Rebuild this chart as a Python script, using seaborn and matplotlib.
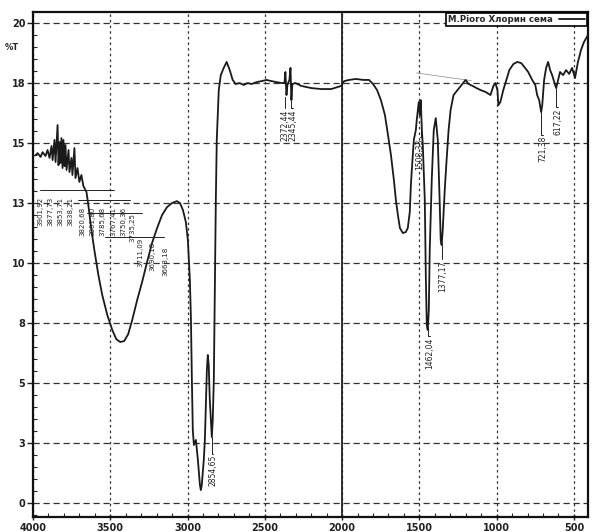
import matplotlib
matplotlib.use("Agg")
import matplotlib.pyplot as plt
import seaborn as sns
import pandas as pd
from matplotlib.ticker import MultipleLocator, FixedLocator, FuncFormatter

# ---------------- data ----------------
wavenumber = [3983, 3970, 3951, 3938, 3919, 3906, 3893, 3880, 3873, 3861, 3854, 3841, 3835, 3828,
              3822, 3816, 3809, 3803, 3796, 3790, 3783, 3770, 3764, 3751, 3745, 3732, 3725, 3712,
              3700, 3687, 3674, 3654, 3642, 3622, 3603, 3577, 3552, 3519, 3487, 3461, 3436, 3410,
              3384, 3358, 3326, 3294, 3262, 3230, 3197, 3165, 3133, 3101, 3069, 3049, 3030, 3011,
              2998, 2985, 2978, 2972, 2966, 2959, 2946, 2933, 2920, 2914, 2908, 2895, 2888, 2875,
              2869, 2863, 2856, 2843, 2837, 2830, 2824, 2817, 2811, 2798, 2785, 2766, 2747, 2727,
              2708, 2689, 2663, 2637, 2611, 2585, 2553, 2521, 2489, 2457, 2425, 2392, 2373, 2367,
              2360, 2354, 2341, 2334, 2328, 2322, 2302, 2264, 2199, 2134, 2070, 2006, 1987, 1955,
              1910, 1864, 1826, 1800, 1774, 1749, 1723, 1703, 1684, 1665, 1652, 1639, 1626, 1607,
              1588, 1575, 1562, 1555, 1549, 1536, 1523, 1517, 1504, 1497, 1491, 1484, 1478, 1465,
              1458, 1452, 1446, 1439, 1433, 1420, 1407, 1394, 1381, 1369, 1362, 1356, 1349, 1336,
              1324, 1311, 1298, 1279, 1253, 1227, 1201, 1182, 1156, 1130, 1105, 1072, 1040, 1021,
              1008, 995, 989, 976, 957, 937, 918, 892, 866, 841, 821, 796, 770, 750, 738, 725, 712,
              705, 693, 680, 667, 654, 641, 622, 615, 602, 590, 570, 551, 531, 512, 493, 474, 454,
              435, 409]
transmittance = [14.50, 14.58, 14.42, 14.62, 14.46, 14.71, 14.38, 14.88, 14.29, 15.13, 14.21, 15.75,
                 14.08, 15.04, 14.17, 15.21, 13.96, 15.13, 14.04, 14.92, 13.88, 14.71, 13.79, 14.38,
                 13.67, 14.79, 13.54, 13.96, 13.38, 13.67, 13.21, 12.96, 12.42, 11.38, 10.54, 9.50,
                 8.67, 7.83, 7.21, 6.83, 6.71, 6.75, 7.04, 7.63, 8.46, 9.21, 10.04, 10.83, 11.46,
                 12.00, 12.33, 12.50, 12.58, 12.50, 12.21, 11.71, 10.96, 9.29, 7.63, 5.13, 3.04,
                 2.42, 2.63, 1.79, 0.75, 0.54, 0.75, 1.79, 2.63, 5.54, 6.17, 5.75, 4.29, 2.75, 3.46,
                 5.13, 8.46, 12.63, 15.13, 17.21, 17.83, 18.13, 18.38, 18.04, 17.63, 17.46, 17.50,
                 17.42, 17.50, 17.46, 17.54, 17.58, 17.63, 17.58, 17.54, 17.50, 17.50, 17.96, 17.00,
                 17.42, 17.63, 18.13, 16.79, 17.46, 17.50, 17.38, 17.29, 17.25, 17.25, 17.38, 17.58,
                 17.63, 17.67, 17.63, 17.63, 17.46, 17.21, 16.79, 16.17, 15.33, 14.50, 13.46, 12.63,
                 12.00, 11.46, 11.25, 11.29, 11.46, 12.13, 13.25, 13.88, 15.13, 15.54, 15.96, 16.71,
                 16.17, 16.79, 15.54, 14.92, 12.63, 9.29, 7.42, 7.21, 8.04, 10.54, 13.46, 15.54,
                 16.04, 15.13, 12.63, 10.96, 10.75, 11.38, 13.04, 14.29, 15.54, 16.38, 17.00, 17.21,
                 17.42, 17.63, 17.46, 17.38, 17.29, 17.21, 17.13, 17.00, 17.38, 17.50, 17.21, 16.58,
                 16.71, 17.21, 17.63, 18.04, 18.29, 18.38, 18.33, 18.17, 17.96, 17.63, 17.42, 17.00,
                 16.79, 16.29, 16.58, 17.63, 18.13, 18.38, 18.04, 17.83, 17.42, 17.29, 17.63, 17.96,
                 17.83, 18.04, 17.88, 18.13, 17.71, 18.38, 18.88, 19.21, 19.50]

# peak annotations: text, peak position (wn, T), text position (wn, top T)
peak_labels = ["2372,44", "2345,44", "2854,65", "1508,33", "1462,04", "1377,17", "721,38", "617,22"]
peak_wn = [2367, 2328, 2843, 1491, 1446, 1356, 712, 615]
peak_T = [16.9, 16.8, 2.75, 16.5, 7.21, 10.75, 16.29, 17.29]
label_wn = [2372, 2318, 2836, 1497, 1433, 1352, 699, 602]
label_T = [16.4, 16.4, 2.0, 15.2, 6.9, 10.1, 15.3, 16.45]

cluster_labels = ["3901,92", "3877,73", "3853,71", "3838,21", "3820,68", "3801,80", "3785,68",
                  "3767,41", "3750,36", "3735,25", "3711,09", "3690,18", "3663,18"]
cluster_wn = [3951, 3886, 3822, 3758, 3680, 3616, 3552, 3481, 3416, 3358, 3307, 3230, 3146]
cluster_T = [12.75, 12.75, 12.75, 12.75, 12.33, 12.33, 12.33, 12.33, 12.33, 12.08, 11.04, 10.88, 10.67]
leader_from = [3957, 3712, 3648, 3532]
leader_to = [3474, 3371, 3294, 3152]
leader_T = [13.04, 12.63, 12.08, 11.08]

legend_label = "M.Pioro Хлорин сема"
y_ticks = [0, 2.5, 5, 7.5, 10, 12.5, 15, 17.5, 20]

# ---------------- drawing ----------------
sns.set_style("white")
plt.rcParams['font.family'] = ['DejaVu Sans']

fig = plt.figure(figsize=(5.92, 5.32), dpi=100)
ax = fig.add_axes([33 / 592, 15 / 532, 555 / 592, 505 / 532])

df = pd.DataFrame({"wn": wavenumber, "T": transmittance})
sns.lineplot(data=df, x="wn", y="T", sort=False, estimator=None, color="#1a1a1a",
             lw=1.3, ax=ax, label=legend_label, zorder=3)

ax.set_xlim(4000, 409)
ax.set_ylim(-0.58, 20.46)

ax.xaxis.set_major_locator(MultipleLocator(500))
ax.xaxis.set_minor_locator(MultipleLocator(100))
ax.yaxis.set_major_locator(FixedLocator(y_ticks))
ax.yaxis.set_major_formatter(FuncFormatter(lambda v, p: f"{int(v + 0.5)}"))
ax.yaxis.set_minor_locator(MultipleLocator(0.5))

ax.grid(axis='y', which='major', ls=(0, (5, 3)), color='#333333', lw=0.9)
ax.grid(axis='x', which='major', ls=(0, (2, 2.5)), color='#333333', lw=0.9)
ax.axvline(2000, color='#222222', lw=1.3, zorder=2)

ax.tick_params(axis='both', which='major', direction='out', length=4, width=1,
               labelsize=7, pad=1.5, colors='#222222')
ax.tick_params(axis='x', which='major', direction='inout', length=5)
ax.tick_params(axis='both', which='minor', direction='in', length=3, width=0.8)
ax.tick_params(axis='both', which='both', bottom=True, left=True, top=False, right=False)
for lab in ax.get_xticklabels() + ax.get_yticklabels():
    lab.set_fontweight('bold')

for s in ax.spines.values():
    s.set_color('#111111')
    s.set_linewidth(1.6)

ax.set_xlabel("")
ax.set_ylabel("")
ax.text(-0.038, 0.929, "%T", transform=ax.transAxes, fontsize=6, fontweight='bold',
        ha='center', va='center')

# faint reference line near the top
ax.plot([1519, 1164], [17.92, 17.6], color='#888888', lw=0.5, zorder=2)

# peak labels
for t, pw, pt, lw_, lt in zip(peak_labels, peak_wn, peak_T, label_wn, label_T):
    ax.plot([pw, pw, lw_], [pt, lt + 0.05, lt + 0.05], color='#222222', lw=0.7, zorder=3)
    ax.text(lw_, lt, t, rotation=90, ha='center', va='top', fontsize=5.5, color='#222222')

# label cluster on the left
for f, t2, tt in zip(leader_from, leader_to, leader_T):
    ax.plot([f, t2], [tt, tt], color='#222222', lw=0.7, zorder=3)
for t, cw, ct in zip(cluster_labels, cluster_wn, cluster_T):
    ax.text(cw, ct, t, rotation=90, ha='center', va='top', fontsize=5, color='#222222')

leg = ax.legend(loc='upper right', fontsize=6.2, frameon=True, fancybox=False,
                edgecolor='black', markerfirst=False, borderpad=0.2, handlelength=3.0,
                borderaxespad=0.15, framealpha=1, handletextpad=0.8)
leg.get_frame().set_linewidth(1.2)
for txt in leg.get_texts():
    txt.set_fontweight('bold')

fig.savefig("out.png", dpi=100)
